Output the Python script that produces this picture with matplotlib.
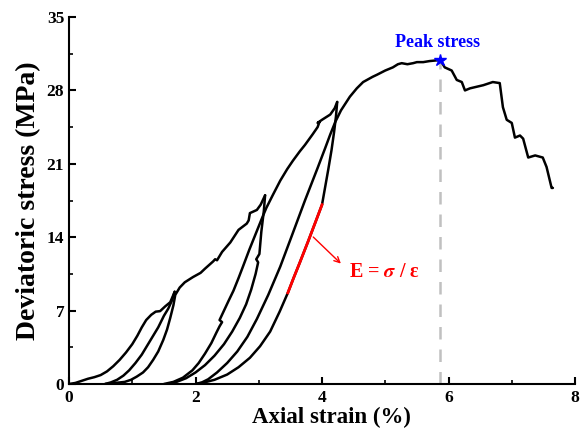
import matplotlib.pyplot as plt
import numpy as np

plt.rcParams['font.family'] = ['Liberation Serif', 'DejaVu Serif']
plt.rcParams['font.weight'] = 'bold'
plt.rcParams['mathtext.fontset'] = 'stix'

# Loading/unloading branches (strain %, stress MPa)
load1_e = [0.0, 0.1, 0.2, 0.3, 0.4, 0.5, 0.6, 0.7, 0.8, 0.9, 1.0, 1.08, 1.15, 1.22, 1.3, 1.37, 1.44, 1.52, 1.6, 1.65, 1.67]
load1_s = [0.0, 0.1, 0.3, 0.5, 0.65, 0.85, 1.2, 1.7, 2.3, 3.0, 3.8, 4.6, 5.4, 6.1, 6.6, 6.9, 6.95, 7.4, 7.8, 8.5, 8.8]

unload1_e = [1.67, 1.63, 1.57, 1.5, 1.41, 1.33, 1.25, 1.15, 1.05, 0.95, 0.86, 0.76, 0.66, 0.57]
unload1_s = [8.8, 8.0, 7.2, 6.5, 5.4, 4.6, 3.8, 2.8, 2.0, 1.3, 0.8, 0.4, 0.15, 0.0]

reload1_e = [0.57, 0.73, 0.88, 0.98, 1.07, 1.17, 1.25, 1.33, 1.41, 1.49, 1.55, 1.6, 1.65, 1.68, 1.75, 1.83, 1.96, 2.08, 2.15,
             2.28, 2.31, 2.34, 2.42, 2.55, 2.68, 2.81, 2.84, 2.86, 2.97, 3.03, 3.1]
reload1_s = [0.0, 0.1, 0.2, 0.4, 0.7, 1.1, 1.6, 2.3, 3.1, 4.2, 5.2, 6.3, 7.5, 8.5, 9.2, 9.7, 10.2, 10.6, 11.0,
             11.7, 11.9, 11.8, 12.6, 13.5, 14.7, 15.3, 15.6, 16.3, 16.6, 17.1, 18.0]

unload2_e = [3.1, 3.08, 3.04, 3.01, 2.96, 2.99, 2.95, 2.88, 2.8, 2.7, 2.58, 2.45, 2.3, 2.15, 2.0, 1.85, 1.7, 1.55]
unload2_s = [18.0, 16.5, 14.5, 12.4, 11.9, 11.6, 10.5, 9.0, 7.6, 6.3, 5.0, 3.8, 2.7, 1.8, 1.1, 0.55, 0.2, 0.0]

reload2_e = [1.5, 1.65, 1.8, 1.95, 2.05, 2.15, 2.25, 2.33, 2.38, 2.42, 2.38, 2.45, 2.52, 2.6, 2.68, 2.75, 2.85, 2.95, 3.05, 3.12,
             3.22, 3.34, 3.45, 3.54, 3.65, 3.73, 3.85, 3.93, 3.96, 3.93, 4.0, 4.13, 4.2, 4.24]
reload2_s = [0.0, 0.2, 0.6, 1.3, 2.0, 2.9, 3.9, 4.9, 5.5, 5.9, 6.1, 7.0, 7.9, 8.9, 10.1, 11.2, 12.8, 14.3, 15.8, 16.8,
             18.0, 19.4, 20.5, 21.3, 22.2, 22.8, 23.8, 24.5, 25.0, 24.9, 25.2, 25.7, 26.3, 26.9]

unload3_e = [4.24, 4.22, 4.19, 4.15, 4.1, 4.05, 4.0, 3.9, 3.78, 3.65, 3.55, 3.46, 3.33, 3.18,
             3.02, 2.86, 2.68, 2.5, 2.3, 2.12, 2.0]
unload3_s = [26.9, 25.5, 24.0, 22.3, 20.5, 18.8, 17.1, 15.5, 13.6, 11.6, 10.1, 8.7, 6.9, 5.0,
             3.6, 2.5, 1.6, 0.9, 0.4, 0.12, 0.0]

reload3_e = [2.0, 2.1, 2.2, 2.34, 2.5, 2.66, 2.82, 2.97, 3.15, 3.34, 3.52, 3.73, 3.93, 4.05, 4.13,
             4.21, 4.3, 4.44, 4.55, 4.65, 4.8, 4.87, 5.0, 5.12, 5.2, 5.26, 5.35, 5.44, 5.5, 5.6, 5.7, 5.87,
             5.94, 6.05, 6.13, 6.21, 6.26, 6.34, 6.55, 6.7, 6.81, 6.86, 6.92, 7.0, 7.05, 7.13, 7.18,
             7.26, 7.37, 7.49, 7.55, 7.63, 7.65]
reload3_s = [0.0, 0.15, 0.45, 1.1, 2.0, 3.1, 4.5, 6.2, 8.5, 11.2, 14.1, 17.5, 20.6, 22.5, 23.8,
             25.0, 26.1, 27.4, 28.2, 28.8, 29.3, 29.5, 29.9, 30.2, 30.5, 30.6, 30.5, 30.6, 30.7, 30.7, 30.8, 30.9,
             30.2, 29.9, 29.0, 28.8, 28.0, 28.2, 28.5, 28.8, 28.7, 26.4, 25.2, 24.9, 23.5, 23.7, 23.4,
             21.6, 21.8, 21.6, 20.7, 18.7, 18.7]

# Segment used for the elastic modulus
mod_e = [3.46, 3.55, 3.65, 3.78, 3.9, 4.0]
mod_s = [8.7, 10.1, 11.6, 13.6, 15.5, 17.1]

peak_e, peak_s = 5.87, 30.9

fig = plt.figure(figsize=(5.82, 4.37), dpi=100)
ax = fig.add_axes([0.1186, 0.1213, 0.8694, 0.8397])

for e, s in [(load1_e, load1_s), (unload1_e, unload1_s), (reload1_e, reload1_s),
             (unload2_e, unload2_s), (reload2_e, reload2_s),
             (unload3_e, unload3_s), (reload3_e, reload3_s)]:
    ax.plot(e, s, color='black', lw=1.8, solid_joinstyle='round', solid_capstyle='round', zorder=3)

ax.plot(mod_e, mod_s, color='red', lw=2.0, zorder=4)
ax.plot([peak_e, peak_e], [0, peak_s], color='#c0c0c0', lw=1.8, ls=(0, (5, 4)), zorder=2)
ax.plot(peak_e, peak_s, marker='*', color='blue', ms=9, zorder=5)
ax.text(5.82, 32.6, 'Peak stress', color='blue', fontsize=13, fontweight='bold',
        ha='center', va='center')

ax.annotate('', xy=(4.33, 11.3), xytext=(3.83, 14.2),
            arrowprops=dict(arrowstyle='->', color='red', lw=1.0))
ax.text(4.42, 10.7, 'E = $\\sigma$ / ε', color='red', fontsize=14.5, fontweight='bold',
        ha='left', va='center')

ax.set_xlim(0, 8)
ax.set_ylim(0, 35)
ax.set_xticks([0, 2, 4, 6, 8])
ax.set_xticks([1, 3, 5, 7], minor=True)
ax.set_yticks([0, 7, 14, 21, 28, 35])
ax.set_yticks([3.5, 10.5, 17.5, 24.5, 31.5], minor=True)
ax.spines['top'].set_visible(False)
ax.spines['right'].set_visible(False)
for sp in ['left', 'bottom']:
    ax.spines[sp].set_linewidth(1.5)
ax.tick_params(which='major', direction='in', length=5, width=1.5, labelsize=12.5)
ax.tick_params(axis='x', which='major', pad=4)
ax.tick_params(which='minor', direction='in', length=3, width=1.2)
ax.set_xlabel('Axial strain (%)', fontsize=16.5, fontweight='bold')
ax.xaxis.set_label_coords(0.518, -0.062)
ax.set_ylabel('Deviatoric stress (MPa)', fontsize=20, fontweight='bold', labelpad=4)

fig.savefig('out.png', dpi=100)
